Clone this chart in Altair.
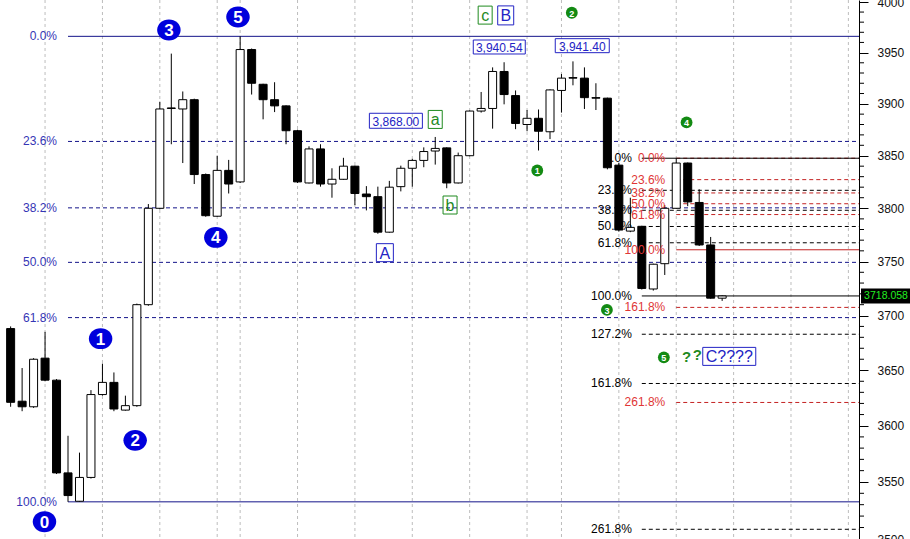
import altair as alt
import pandas as pd

# ---- daily bars (open, high, low, close) ----
opens = [3688, 3622, 3617, 3661, 3641, 3558, 3533, 3554, 3628, 3639,
         3614, 3618, 3710, 3800, 3896, 3895, 3904, 3832, 3792.5, 3836,
         3825, 3953, 3919, 3904, 3898, 3874, 3824, 3856.5, 3823, 3827.5,
         3840, 3813.5, 3811, 3777.5, 3820.5, 3838, 3845.5, 3854.5, 3857.5, 3824,
         3850, 3893, 3895.5, 3931.5, 3908, 3880, 3886, 3873, 3913, 3925.5,
         3925, 3906, 3905.5, 3841, 3778.5, 3783, 3724.5, 3748, 3800, 3843,
         3805.5, 3765.5, 3716]
highs = [3690, 3652, 3661, 3685, 3642, 3591, 3576, 3632, 3656, 3648,
         3627, 3711, 3804, 3902, 3949, 3912, 3905, 3833, 3850, 3846,
         3966, 3954, 3919.5, 3921, 3898.5, 3875, 3859, 3861, 3838, 3848,
         3840.5, 3821, 3820.5, 3826, 3840.5, 3847, 3858, 3868.00, 3858, 3853,
         3893.5, 3911.5, 3935.5, 3940.54, 3913, 3894, 3894.5, 3914, 3929, 3941.40,
         3935.5, 3920, 3906, 3843, 3810, 3783.5, 3748, 3803, 3847.6, 3843.5,
         3818, 3773, 3718.5]
lows = [3617, 3613, 3616, 3640, 3557, 3532.5, 3532.5, 3553, 3627, 3613,
        3613.5, 3617, 3709, 3799, 3861, 3843, 3823, 3792, 3792, 3814,
        3824, 3909, 3885, 3892, 3861, 3824, 3823.5, 3820.5, 3810, 3827,
        3803, 3798, 3776, 3777, 3816, 3820.5, 3839, 3841.5, 3819, 3823.5,
        3849.5, 3891.5, 3876, 3899.5, 3875.5, 3873.5, 3855, 3866, 3891.5, 3918,
        3895, 3894, 3837, 3778, 3777.5, 3724, 3723, 3737.5, 3799.5, 3802,
        3764.5, 3715.5, 3713.5]
closes = [3621, 3617, 3660, 3641, 3558, 3538, 3554, 3628, 3639, 3615,
          3618, 3710, 3800, 3895, 3895.5, 3904, 3832, 3793, 3836, 3823,
          3953, 3920, 3904, 3898, 3874, 3825, 3856.5, 3823, 3827.5, 3840,
          3814, 3811, 3777.5, 3820, 3838, 3845.5, 3854, 3857, 3824, 3850,
          3893, 3895.5, 3931.5, 3909, 3881, 3886, 3873.5, 3913.5, 3925, 3925,
          3906, 3905.5, 3838.5, 3779.5, 3782, 3725, 3747.5, 3800, 3843, 3806,
          3765.5, 3716, 3718.058]

# session separators (bar index)
separators = [3, 8, 13, 18, 20, 25, 30, 35, 40, 45, 48, 53, 58, 63, 68, 73]

# ---- Fibonacci studies: (high, low, start bar, ratios) ----
blue_fib = (3966.0, 3532.5, 5, [0, 0.236, 0.382, 0.5, 0.618, 1.0])
black_fib = (3847.6, 3718.058, 55, [0, 0.236, 0.382, 0.5, 0.618, 1.0, 1.272, 1.618, 2.618])
red_fib = (3847.6, 3761.0, 58, [0, 0.236, 0.382, 0.5, 0.618, 1.0, 1.618, 2.618])

# ---- wave annotations ----
big_wave_text = ["0", "1", "2", "3", "4", "5"]
big_wave_i = [2.95, 7.84, 10.85, 13.79, 17.88, 19.81]
big_wave_p = [3515.0, 3678.8, 3586.9, 3972.3, 3772.6, 3985.2]

small_wave_text = ["1", "2", "3", "4", "5"]
small_wave_i = [45.89, 48.9, 51.96, 58.9, 56.92]
small_wave_p = [3835.9, 3989.3, 3705.2, 3882.0, 3661.7]

query_i = [58.9, 59.84]
query_p = [3661.7, 3664.0]

box_text = ["3,868.00", "a", "b", "A", "c", "B", "3,940.54", "3,941.40", "C????"]
box_i = [33.57, 37.0, 38.29, 32.61, 41.35, 43.14, 42.58, 49.81, 62.62]
box_p = [3883.6, 3884.9, 3803.1, 3758.3, 3987.0, 3986.7, 3955.5, 3956.8, 3662.6]
box_color = ["#2323c4", "#1f8a1f", "#1f8a1f", "#2323c4", "#1f8a1f", "#2323c4",
             "#2323c4", "#2323c4", "#2323c4"]
box_font = [12, 16, 16, 16, 16, 16, 12, 12, 16]
box_w = [53, 14, 14, 17, 14, 16, 52, 54, 53]
box_h = [15, 18, 18, 18, 18, 19, 14, 14, 18]

last_price = 3718.058
axis_values = list(range(3500, 4001, 50))
minor_values = [v for v in range(3510, 4000, 10) if v % 50]

FONT = "Liberation Sans"
PLOT_W, PLOT_H = 859, 539

XS = alt.Scale(domain=[-0.491, 73.49], nice=False, zero=False)
YS = alt.Scale(type="log", domain=[3500, 4002], nice=False)

# one price axis on the right, shared by every layer
Y_AXIS = alt.Axis(
    orient="right", values=axis_values, labelExpr="format(datum.value, 'd')",
    tickSize=9, labelPadding=9,
    labelFont=FONT, labelFontSize=12, labelColor="#111111", domainColor="#000000",
    tickColor="#000000", domainWidth=1, tickWidth=1, grid=False, title=None,
    labelOverlap=False, labelFlush=False,
)


def xq(field="i"):
    return alt.X(f"{field}:Q", scale=XS, axis=None)


def yq(field):
    return alt.Y(f"{field}:Q", scale=YS, axis=Y_AXIS)


def rect_path(w, h):
    r = h / w
    return f"M-1,{-r:.4f}L1,{-r:.4f}L1,{r:.4f}L-1,{r:.4f}Z"


bars = pd.DataFrame({"i": range(len(opens)), "open": opens, "high": highs,
                     "low": lows, "close": closes})
bars["body"] = ["#ffffff" if c >= o else "#000000" for o, c in zip(opens, closes)]


def fib_frame(spec):
    hi, lo, start, ratios = spec
    return pd.DataFrame({
        "price": [hi - r * (hi - lo) for r in ratios],
        "start": [start] * len(ratios),
        "label": [f"{r * 100:.1f}%" for r in ratios],
        "edge": [r in (0, 1.0) for r in ratios],
    })


blue_df = fib_frame(blue_fib)
black_df = fib_frame(black_fib)
red_df = fib_frame(red_fib)


def fib_lines(df, color, solid_mask):
    dashed = alt.Chart(df[~solid_mask]).mark_rule(
        color=color, strokeDash=[4, 3], strokeWidth=1
    ).encode(x=xq("start"), x2=alt.value(PLOT_W), y=yq("price"))
    solid = alt.Chart(df[solid_mask]).mark_rule(
        color=color, strokeWidth=1
    ).encode(x=xq("start"), x2=alt.value(PLOT_W), y=yq("price"))
    return [dashed, solid]


def fib_labels(df, color, dx):
    return alt.Chart(df).mark_text(
        align="right", baseline="middle", dx=dx, font=FONT, fontSize=12, color=color
    ).encode(x=xq("start"), y=yq("price"), text="label:N")


grid = alt.Chart(pd.DataFrame({"i": separators})).mark_rule(
    color="#bdbdbd", strokeDash=[3, 3], strokeWidth=1
).encode(x=xq())

blue_lines = fib_lines(blue_df, "#14148a", blue_df["edge"])
red_lines = fib_lines(red_df, "#c42222", red_df["price"] == red_fib[1])
black_lines = fib_lines(black_df, "#000000", black_df["edge"])

wicks = alt.Chart(bars).mark_rule(color="#000000", strokeWidth=1).encode(
    x=xq(), y=yq("low"), y2="high:Q"
)
bodies = alt.Chart(bars).mark_bar(size=8, stroke="#000000", strokeWidth=1).encode(
    x=xq(), y=yq("open"), y2="close:Q", fill=alt.Fill("body:N", scale=None)
)

minor = alt.Chart(pd.DataFrame({"v": minor_values})).mark_rule(
    color="#000000", strokeWidth=1
).encode(y=yq("v"), x=alt.value(PLOT_W), x2=alt.value(PLOT_W + 5))

ellipse = "M-1,0A1,0.89,0,1,1,1,0A1,0.89,0,1,1,-1,0Z"
big_df = pd.DataFrame({"i": big_wave_i, "p": big_wave_p, "t": big_wave_text})
big_dots = alt.Chart(big_df).mark_point(
    shape=ellipse, size=23.5 ** 2, filled=True, fill="#0000dc", opacity=1, strokeWidth=0
).encode(x=xq(), y=yq("p"))
big_nums = alt.Chart(big_df).mark_text(
    font=FONT, fontSize=17, fontWeight="bold", color="#ffffff", baseline="middle", dy=1
).encode(x=xq(), y=yq("p"), text="t:N")

small_df = pd.DataFrame({"i": small_wave_i, "p": small_wave_p, "t": small_wave_text})
small_dots = alt.Chart(small_df).mark_point(
    shape="circle", size=140, filled=True, fill="#138a13", opacity=1, strokeWidth=0
).encode(x=xq(), y=yq("p"))
small_nums = alt.Chart(small_df).mark_text(
    font=FONT, fontSize=9, fontWeight="bold", color="#ffffff", baseline="middle", dy=1
).encode(x=xq(), y=yq("p"), text="t:N")

query = alt.Chart(pd.DataFrame({"i": query_i, "p": query_p, "t": ["?", "?"]})).mark_text(
    font=FONT, fontSize=15, fontWeight="bold", color="#1f8a1f", baseline="middle"
).encode(x=xq(), y=yq("p"), text="t:N")

box_df = pd.DataFrame({
    "i": box_i, "p": box_p, "t": box_text, "c": box_color, "fs": box_font,
    "shape": [rect_path(w, h) for w, h in zip(box_w, box_h)],
    "sz": [w * w for w in box_w],
})
box_frames = alt.Chart(box_df).mark_point(filled=False, strokeWidth=1, opacity=1).encode(
    x=xq(), y=yq("p"),
    shape=alt.Shape("shape:N", scale=None),
    size=alt.Size("sz:Q", scale=None),
    color=alt.Color("c:N", scale=None),
)
box_labels = alt.Chart(box_df).mark_text(font=FONT, baseline="middle", dy=1).encode(
    x=xq(), y=yq("p"), text="t:N",
    size=alt.Size("fs:Q", scale=None),
    color=alt.Color("c:N", scale=None),
)

tag_df = pd.DataFrame({"p": [last_price], "t": [f"{last_price:.3f}"]})
tag_bg = alt.Chart(tag_df).mark_point(
    shape=rect_path(49, 15), size=49 ** 2, filled=True, fill="#000000", opacity=1, strokeWidth=0
).encode(x=alt.value(PLOT_W + 26.5), y=yq("p"))
tag_text = alt.Chart(tag_df).mark_text(
    font=FONT, fontSize=10.5, color="#22ee22", baseline="middle", align="center"
).encode(x=alt.value(PLOT_W + 27), y=yq("p"), text="t:N")

layers = [grid, *blue_lines, *red_lines, *black_lines,
          fib_labels(blue_df, "#3535b5", -11), fib_labels(black_df, "#000000", -10),
          wicks, bodies,
          fib_labels(red_df, "#e03636", -11),
          big_dots, big_nums, small_dots, small_nums, query,
          box_frames, box_labels, minor, tag_bg, tag_text]

chart = alt.layer(*layers).properties(
    width=PLOT_W, height=PLOT_H,
    autosize=alt.AutoSizeParams(type="none"),
    padding={"left": 0, "top": 0, "right": 910 - PLOT_W, "bottom": 0},
    background="#ffffff",
).configure_view(stroke=None)

chart.save("out.html", embed_options={"renderer": "svg", "actions": False})
